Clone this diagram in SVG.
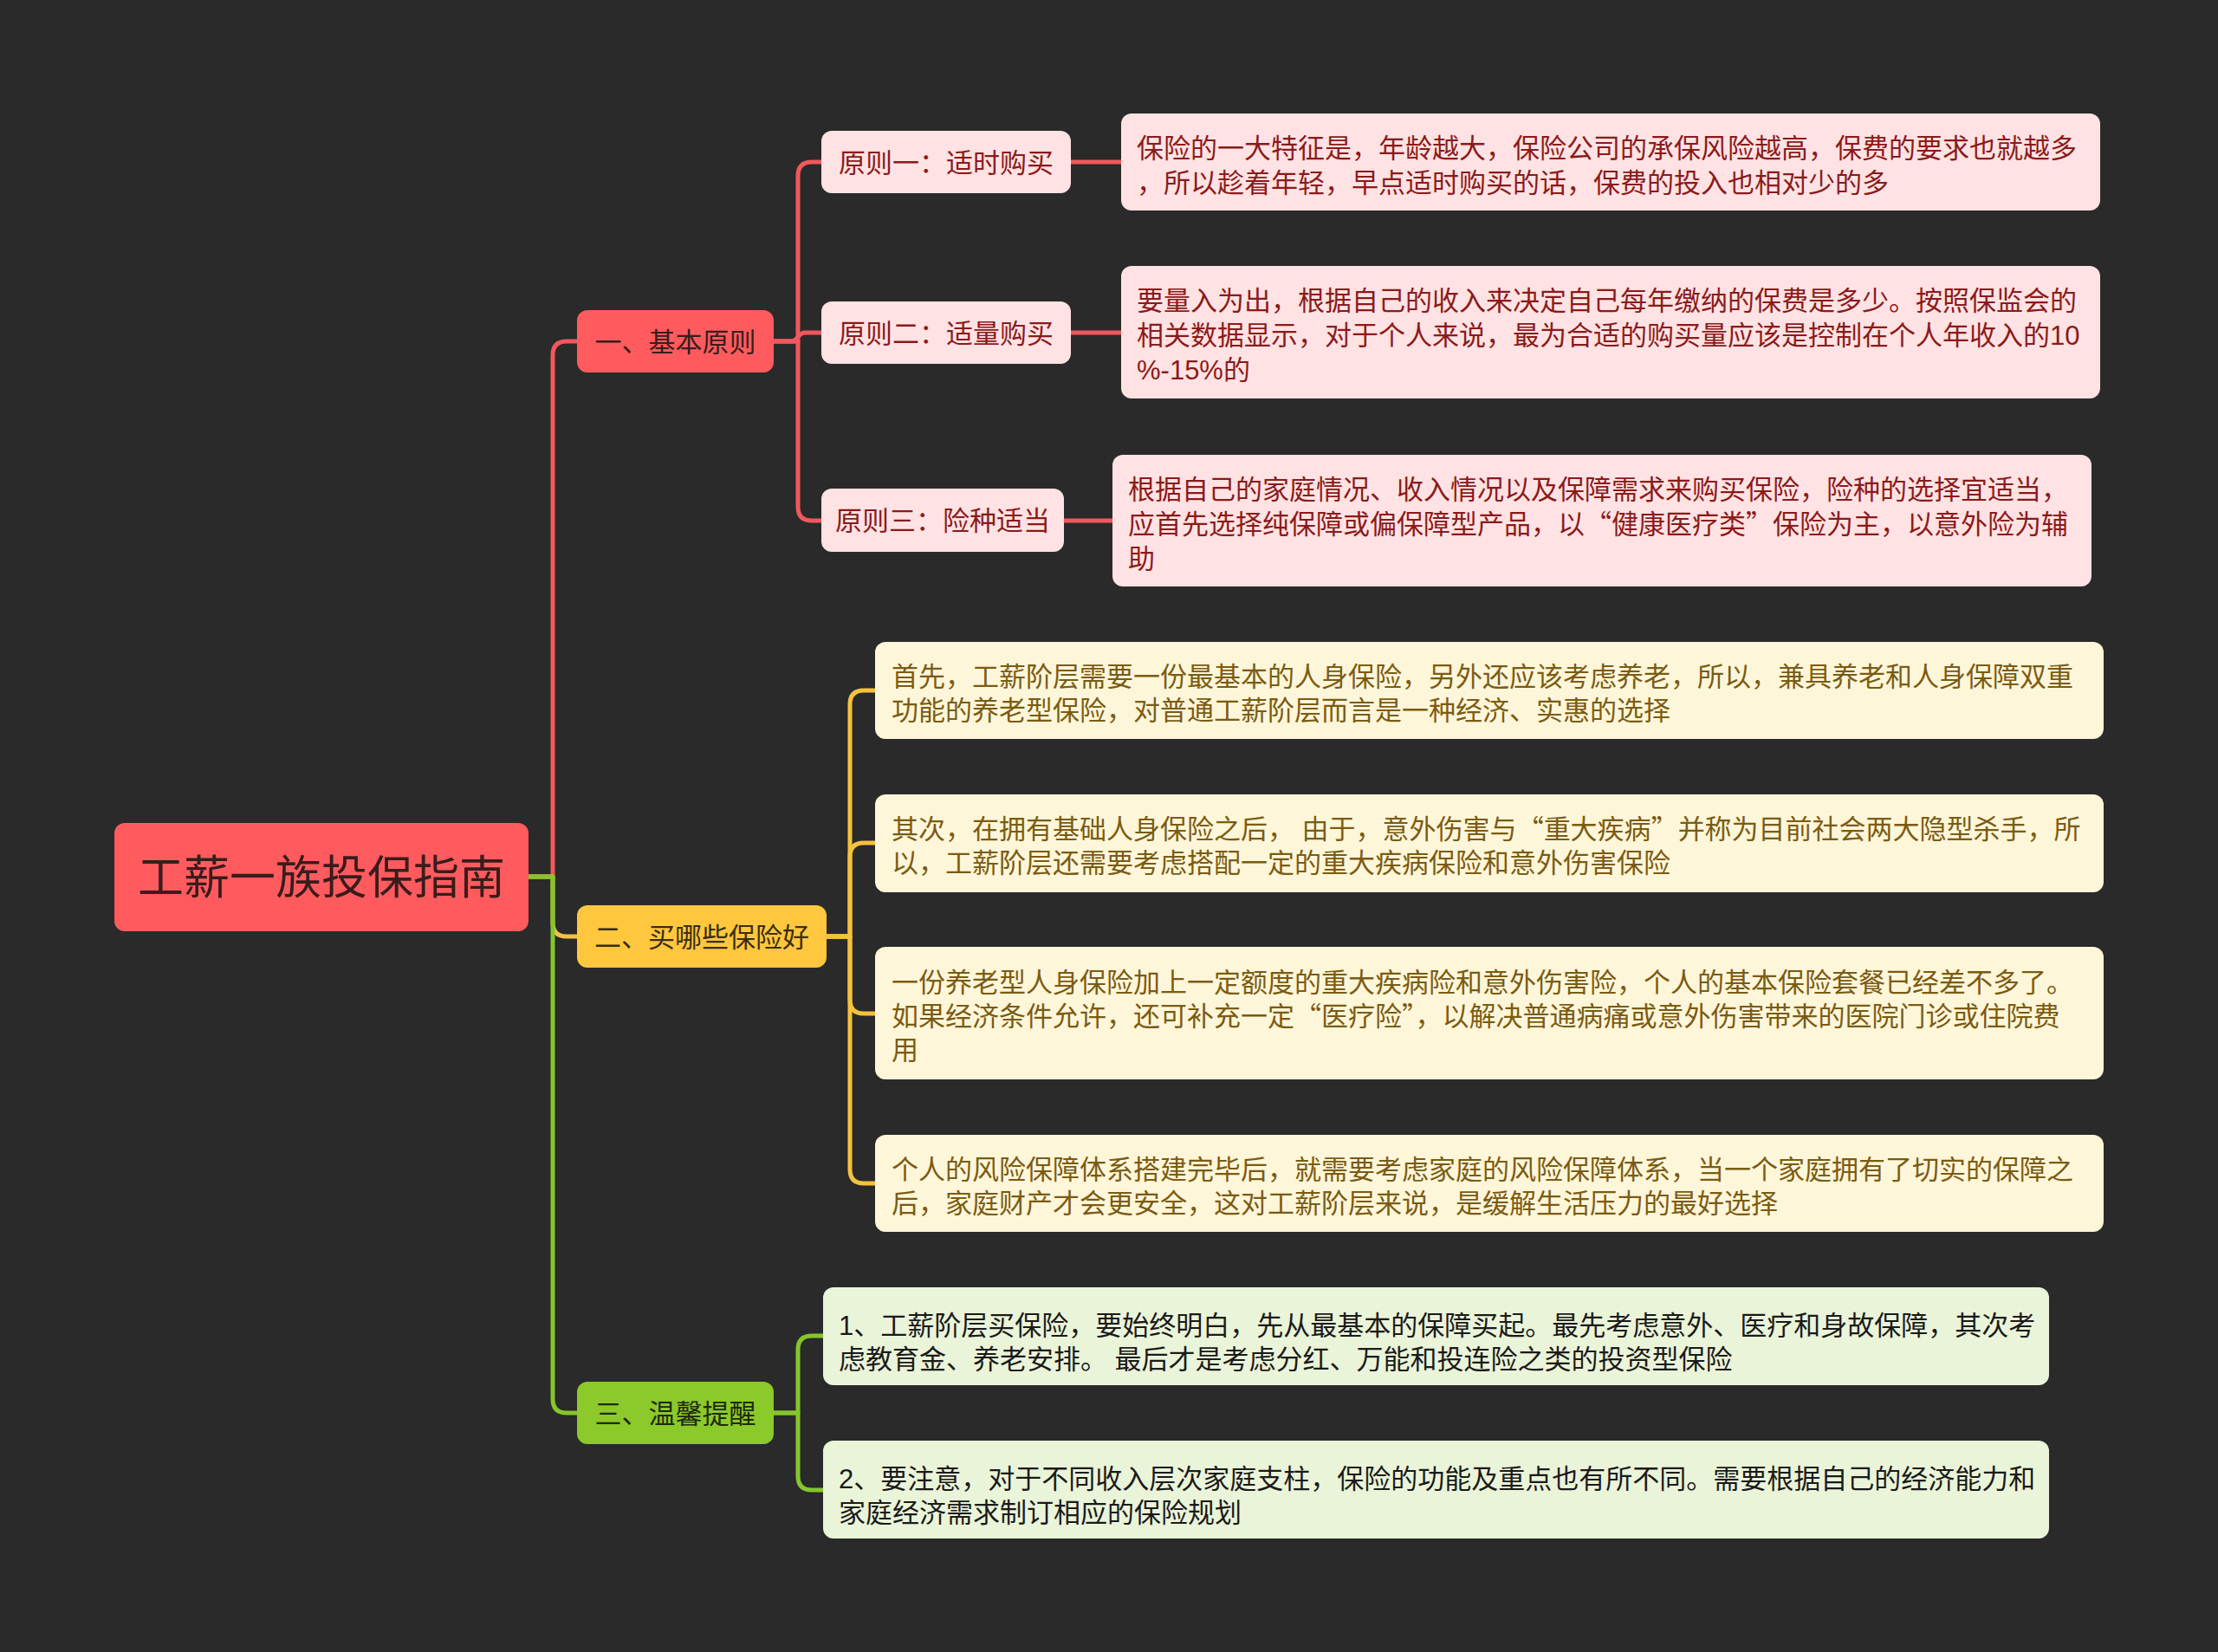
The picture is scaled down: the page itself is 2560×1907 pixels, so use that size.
<svg xmlns="http://www.w3.org/2000/svg" width="2560" height="1907" viewBox="0 0 2560 1907">
<style>
text{font-family:"Liberation Sans","Noto Sans CJK SC",sans-serif;font-size:31px}
.q{font-family:"Noto Sans CJK SC",sans-serif}
.c{text-anchor:middle}
.ln{fill:none;stroke-width:5;stroke-linecap:round;stroke-linejoin:round}
.lr{stroke:#F0585D}.ly{stroke:#F5C23E}.lg{stroke:#84C62C}
.root{fill:#FF5B5E}
.r1{fill:#FF5B5E}.r2{fill:#FFE2E3}
.y1{fill:#FFC73D}.y2{fill:#FEF6D9}
.g1{fill:#8CC92A}.g2{fill:#EAF4D8}
.tr1{fill:#3A1C1C}.tr2{fill:#8B1A1A}
.ty1{fill:#3A2E0E}.ty2{fill:#7B5B12}
.tg1{fill:#1E2A0A}.tg2{fill:#1A1A1A}
</style>
<rect x="0" y="0" width="2560" height="1907" fill="#2A2A2A"/>
<g id="connectors">
<path class="ln lr" d="M611,1012 H638 V410 Q638,394 654,394 H666"/>
<path class="ln ly" d="M611,1012 H638 V1065 Q638,1081 654,1081 H666"/>
<path class="ln lg" d="M611,1012 H638 V1615 Q638,1631 654,1631 H666"/>
<path class="ln lr" d="M893,394 H921 V203 Q921,187 937,187 H948"/>
<path class="ln lr" d="M893,394 H913 C921,394 921,384 929,384 H948"/>
<path class="ln lr" d="M893,394 H921 V585 Q921,601 937,601 H948"/>
<path class="ln lr" d="M1236,187 H1294"/>
<path class="ln lr" d="M1236,384 H1294"/>
<path class="ln lr" d="M1228,601 H1284"/>
<path class="ln ly" d="M954,1081 H981 V813 Q981,797 997,797 H1010"/>
<path class="ln ly" d="M954,1081 H981 V989 Q981,973 997,973 H1010"/>
<path class="ln ly" d="M954,1081 H981 V1154 Q981,1170 997,1170 H1010"/>
<path class="ln ly" d="M954,1081 H981 V1350 Q981,1366 997,1366 H1010"/>
<path class="ln lg" d="M893,1631 H921 V1558 Q921,1542 937,1542 H950"/>
<path class="ln lg" d="M893,1631 H921 V1704 Q921,1720 937,1720 H950"/>
</g>
<g id="root">
<rect class="root" x="132" y="950" width="478" height="125" rx="12"/>
<text class="c tr1" x="371" y="1032" style="font-size:53px">工薪一族投保指南</text>
</g>
<g id="n1">
<rect class="r1" x="666" y="358" width="227" height="72" rx="12"/>
<text class="c tr1" x="779.5" y="406">一、基本原则</text>
</g>
<g id="n2">
<rect class="y1" x="666" y="1045" width="288" height="72" rx="12"/>
<text class="c ty1" x="810" y="1093">二、买哪些保险好</text>
</g>
<g id="n3">
<rect class="g1" x="666" y="1595" width="227" height="72" rx="12"/>
<text class="c tg1" x="779.5" y="1643">三、温馨提醒</text>
</g>
<g id="n1a">
<rect class="r2" x="948" y="151" width="288" height="72" rx="12"/>
<text class="c tr2" x="1092" y="199">原则一：适时购买</text>
</g>
<g id="n1b">
<rect class="r2" x="948" y="348" width="288" height="72" rx="12"/>
<text class="c tr2" x="1092" y="396">原则二：适量购买</text>
</g>
<g id="n1c">
<rect class="r2" x="948" y="564" width="280" height="73" rx="12"/>
<text class="c tr2" x="1088" y="612">原则三：险种适当</text>
</g>
<g id="d1a">
<rect class="r2" x="1294" y="131" width="1130" height="112" rx="12"/>
<text class="tr2" x="1312"><tspan x="1312" y="182">保险的一大特征是，年龄越大，保险公司的承保风险越高，保费的要求也就越多</tspan><tspan x="1312" y="222">，所以趁着年轻，早点适时购买的话，保费的投入也相对少的多</tspan></text>
</g>
<g id="d1b">
<rect class="r2" x="1294" y="307" width="1130" height="153" rx="12"/>
<text class="tr2" x="1312"><tspan x="1312" y="358">要量入为出，根据自己的收入来决定自己每年缴纳的保费是多少。按照保监会的</tspan><tspan x="1312" y="398">相关数据显示，对于个人来说，最为合适的购买量应该是控制在个人年收入的10</tspan><tspan x="1312" y="438">%-15%的</tspan></text>
</g>
<g id="d1c">
<rect class="r2" x="1284" y="525" width="1130" height="152" rx="12"/>
<text class="tr2" x="1302"><tspan x="1302" y="576">根据自己的家庭情况、收入情况以及保障需求来购买保险，险种的选择宜适当，</tspan><tspan x="1302" y="616">应首先选择纯保障或偏保障型产品，以<tspan class="q">“</tspan>健康医疗类<tspan class="q">”</tspan>保险为主，以意外险为辅</tspan><tspan x="1302" y="656">助</tspan></text>
</g>
<g id="d2a">
<rect class="y2" x="1010" y="741" width="1418" height="112" rx="12"/>
<text class="ty2" x="1029"><tspan x="1029" y="792">首先，工薪阶层需要一份最基本的人身保险，另外还应该考虑养老，所以，兼具养老和人身保障双重</tspan><tspan x="1029" y="831">功能的养老型保险，对普通工薪阶层而言是一种经济、实惠的选择</tspan></text>
</g>
<g id="d2b">
<rect class="y2" x="1010" y="917" width="1418" height="113" rx="12"/>
<text class="ty2" x="1029"><tspan x="1029" y="968">其次，在拥有基础人身保险之后， 由于，意外伤害与<tspan class="q">“</tspan>重大疾病<tspan class="q">”</tspan>并称为目前社会两大隐型杀手，所</tspan><tspan x="1029" y="1007">以，工薪阶层还需要考虑搭配一定的重大疾病保险和意外伤害保险</tspan></text>
</g>
<g id="d2c">
<rect class="y2" x="1010" y="1093" width="1418" height="153" rx="12"/>
<text class="ty2" x="1029"><tspan x="1029" y="1145">一份养老型人身保险加上一定额度的重大疾病险和意外伤害险，个人的基本保险套餐已经差不多了。</tspan><tspan x="1029" y="1184">如果经济条件允许，还可补充一定<tspan class="q">“</tspan>医疗险<tspan class="q">”</tspan>，以解决普通病痛或意外伤害带来的医院门诊或住院费</tspan><tspan x="1029" y="1223">用</tspan></text>
</g>
<g id="d2d">
<rect class="y2" x="1010" y="1310" width="1418" height="112" rx="12"/>
<text class="ty2" x="1029"><tspan x="1029" y="1361">个人的风险保障体系搭建完毕后，就需要考虑家庭的风险保障体系，当一个家庭拥有了切实的保障之</tspan><tspan x="1029" y="1400">后，家庭财产才会更安全，这对工薪阶层来说，是缓解生活压力的最好选择</tspan></text>
</g>
<g id="d3a">
<rect class="g2" x="950" y="1486" width="1415" height="113" rx="12"/>
<text class="tg2" x="968"><tspan x="968" y="1541">1、工薪阶层买保险，要始终明白，先从最基本的保障买起。最先考虑意外、医疗和身故保障，其次考</tspan><tspan x="968" y="1580">虑教育金、养老安排。 最后才是考虑分红、万能和投连险之类的投资型保险</tspan></text>
</g>
<g id="d3b">
<rect class="g2" x="950" y="1663" width="1415" height="113" rx="12"/>
<text class="tg2" x="968"><tspan x="968" y="1718">2、要注意，对于不同收入层次家庭支柱，保险的功能及重点也有所不同。需要根据自己的经济能力和</tspan><tspan x="968" y="1757">家庭经济需求制订相应的保险规划</tspan></text>
</g>
</svg>
